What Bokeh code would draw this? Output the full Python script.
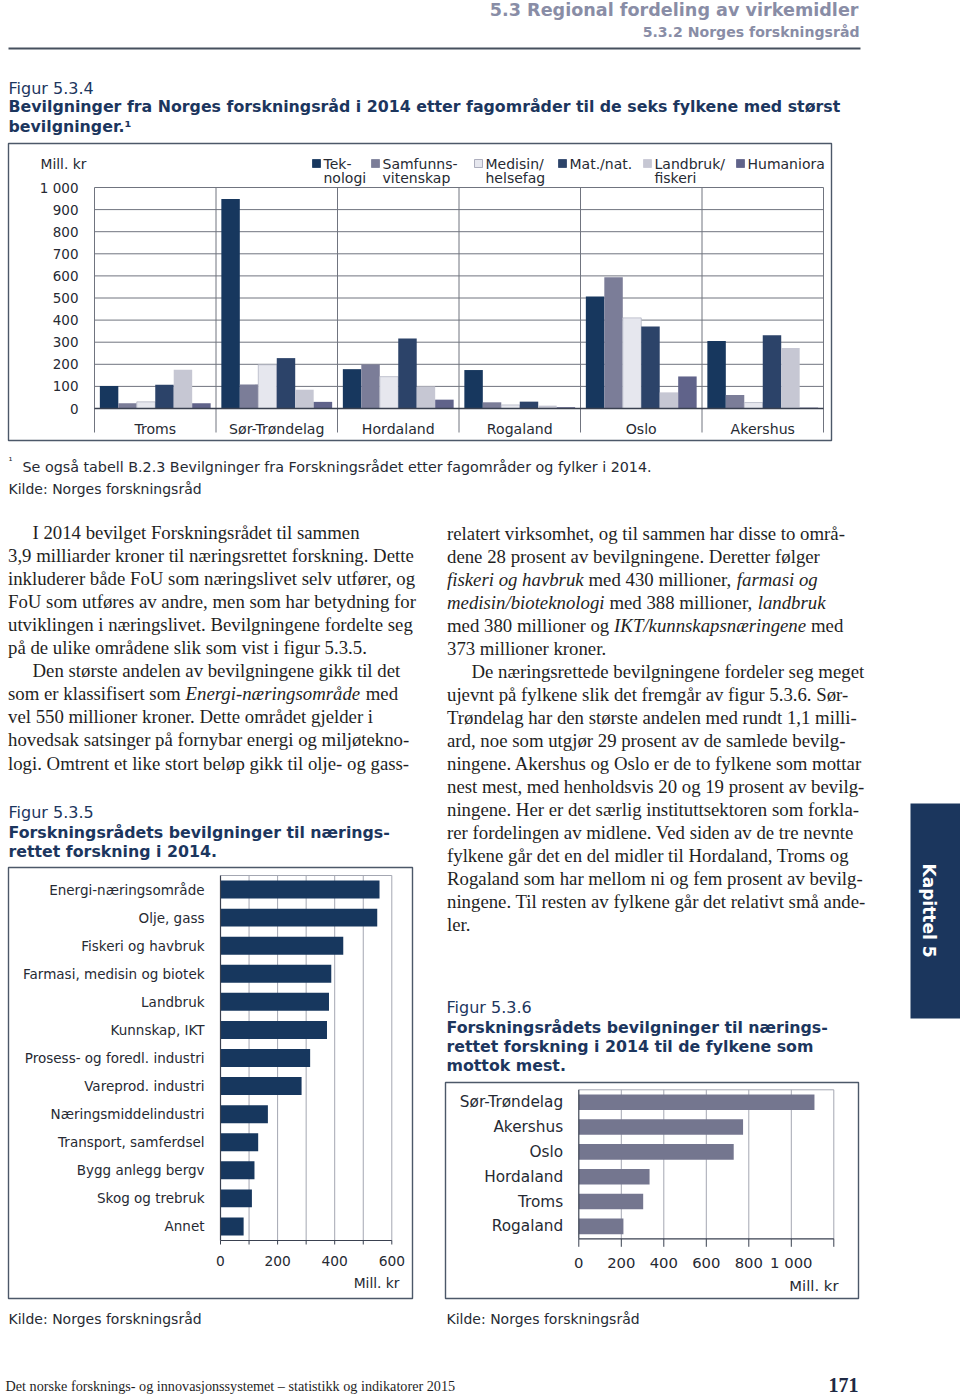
import numpy as np
from bokeh.plotting import figure
from bokeh.models import Range1d
from bokeh.core.properties import value
from bokeh.embed import file_html
from bokeh.resources import INLINE

# ------------------------------------------------------------------ data
# Figur 5.3.4
counties = ["Troms", "Sør-Trøndelag", "Hordaland", "Rogaland", "Oslo", "Akershus"]
field_labels = ["Tek-\nnologi", "Samfunns-\nvitenskap", "Medisin/\nhelsefag",
                "Mat./nat.", "Landbruk/\nfiskeri", "Humaniora"]
teknologi = [102, 948, 178, 174, 507, 305]
samfunnsvitenskap = [24, 109, 199, 28, 594, 61]
medisin_helsefag = [30, 198, 144, 16, 410, 27]
mat_nat = [108, 228, 317, 31, 371, 331]
landbruk_fiskeri = [175, 85, 100, 13, 73, 274]
humaniora = [24, 30, 40, 6, 145, 4]
c1_ticks = [0, 100, 200, 300, 400, 500, 600, 700, 800, 900, 1000]
c1_tick_labels = ["0", "100", "200", "300", "400", "500", "600", "700", "800", "900", "1 000"]

# Figur 5.3.5
areas = ["Energi-næringsområde", "Olje, gass", "Fiskeri og havbruk",
         "Farmasi, medisin og biotek", "Landbruk", "Kunnskap, IKT",
         "Prosess- og foredl. industri", "Vareprod. industri",
         "Næringsmiddelindustri", "Transport, samferdsel", "Bygg anlegg bergv",
         "Skog og trebruk", "Annet"]
area_values = [557, 549, 430, 388, 380, 373, 314, 284, 166, 132, 119, 110, 81]
c2_ticks = [0, 100, 200, 300, 400, 500, 600]
c2_tick_labels = ["0", "", "200", "", "400", "", "600"]

# Figur 5.3.6
top_counties = ["Sør-Trøndelag", "Akershus", "Oslo", "Hordaland", "Troms", "Rogaland"]
top_values = [1109, 773, 729, 333, 303, 210]
c3_ticks = [0, 200, 400, 600, 800, 1000, 1200]
c3_tick_labels = ["0", "200", "400", "600", "800", "1 000", ""]

# body text (*...* = italic)
left_lines = [
    "I 2014 bevilget Forskningsrådet til sammen",
    "3,9 milliarder kroner til næringsrettet forskning. Dette",
    "inkluderer både FoU som næringslivet selv utfører, og",
    "FoU som utføres av andre, men som har betydning for",
    "utviklingen i næringslivet. Bevilgningene fordelte seg",
    "på de ulike områdene slik som vist i figur 5.3.5.",
    "Den største andelen av bevilgningene gikk til det",
    "som er klassifisert som *Energi-næringsområde* med",
    "vel 550 millioner kroner. Dette området gjelder i",
    "hovedsak satsinger på fornybar energi og miljøtekno-",
    "logi. Omtrent et like stort beløp gikk til olje- og gass-",
]
left_indent = [0, 6]
right_lines = [
    "relatert virksomhet, og til sammen har disse to områ-",
    "dene 28 prosent av bevilgningene. Deretter følger",
    "*fiskeri og havbruk* med 430 millioner, *farmasi og*",
    "*medisin/bioteknologi* med 388 millioner, *landbruk*",
    "med 380 millioner og *IKT/kunnskapsnæringene* med",
    "373 millioner kroner.",
    "De næringsrettede bevilgningene fordeler seg meget",
    "ujevnt på fylkene slik det fremgår av figur 5.3.6. Sør-",
    "Trøndelag har den største andelen med rundt 1,1 milli-",
    "ard, noe som utgjør 29 prosent av de samlede bevilg-",
    "ningene. Akershus og Oslo er de to fylkene som mottar",
    "nest mest, med henholdsvis 20 og 19 prosent av bevilg-",
    "ningene. Her er det særlig instituttsektoren som forkla-",
    "rer fordelingen av midlene. Ved siden av de tre nevnte",
    "fylkene går det en del midler til Hordaland, Troms og",
    "Rogaland som har mellom ni og fem prosent av bevilg-",
    "ningene. Til resten av fylkene går det relativt små ande-",
    "ler.",
]
right_indent = [6]

# ------------------------------------------------------------------ style
SANS = "DejaVu Sans"
SERIF = "Liberation Serif"
NAVY = "#1c365e"
INK = "#1f1f1f"
CHART_INK = "#262a33"
HEAD_GRAY = "#898da6"
BOX = "#4c5869"
series_colors = ["#17375e", "#7b7d98", "#e6e7ee", "#2c4369", "#c6c7d3", "#60638a"]
series_lines = [None, None, "#b4b6c4", None, None, None]

PX0, PX1, PY0, PY1 = 0, 960, 0, 1396

p = figure(width=PX1 - PX0, height=PY1 - PY0,
           x_range=Range1d(PX0, PX1), y_range=Range1d(PY1, PY0),
           output_backend="svg", toolbar_location=None, min_border=0,
           x_axis_location=None, y_axis_location=None,
           outline_line_color=None, background_fill_color="white",
           border_fill_color="white")
p.grid.grid_line_color = None


def put_text(x, y, texts, size, color, font=SANS, style="normal", align="left",
             baseline="middle", angle=0.0, xr="default", yr="default"):
    p.text(x=x, y=y, text=texts, text_font=value(font),
           text_font_size=f"{size}px", text_color=color,
           text_font_style=style, text_align=align, text_baseline=baseline,
           angle=angle, x_range_name=xr, y_range_name=yr)


# ------------------------------------------------------------------ header
put_text([858], [9], ["5.3 Regional fordeling av virkemidler"], 17.6, HEAD_GRAY,
         style="bold", align="right")
put_text([859], [31], ["5.3.2 Norges forskningsråd"], 14.1, HEAD_GRAY,
         style="bold", align="right")
p.segment(x0=[8], x1=[860], y0=[48], y1=[48], line_color="#46505e", line_width=2)

put_text([8], [88], ["Figur 5.3.4"], 16, NAVY)
put_text([8, 8], [106, 126],
         ["Bevilgninger fra Norges forskningsråd i 2014 etter fagområder til de seks fylkene med størst",
          "bevilgninger.¹"], 15.8, NAVY, style="bold")

# ------------------------------------------------------------------ figure 5.3.4
C1_L, C1_R, C1_Y0, C1_YT = 94.0, 823.0, 408.0, 187.0
c1_gx = (C1_R - C1_L) / len(counties)
c1_sy = (C1_Y0 - C1_YT) / c1_ticks[-1]
p.extra_x_ranges["c1x"] = Range1d((PX0 - C1_L) / c1_gx, (PX1 - C1_L) / c1_gx)
p.extra_y_ranges["c1y"] = Range1d((C1_Y0 - PY1) / c1_sy, (C1_Y0 - PY0) / c1_sy)

p.quad(left=[8], right=[831], top=[143], bottom=[440], fill_color=None,
       line_color=BOX, line_width=1.4)

n_c = len(counties)
p.segment(x0=[0] * len(c1_ticks), x1=[n_c] * len(c1_ticks), y0=c1_ticks, y1=c1_ticks,
          line_color="#70747f", line_width=1, x_range_name="c1x", y_range_name="c1y")
ext = -(432.0 - C1_Y0) / c1_sy
bounds = np.arange(n_c + 1)
p.segment(x0=bounds, x1=bounds, y0=[c1_ticks[-1]] * len(bounds), y1=[ext] * len(bounds),
          line_color="#70747f", line_width=1, x_range_name="c1x", y_range_name="c1y")

series = [teknologi, samfunnsvitenskap, medisin_helsefag, mat_nat, landbruk_fiskeri, humaniora]
bw = 0.152
for j, vals in enumerate(series):
    xs = np.arange(n_c) + 0.5 + (j - (len(series) - 1) / 2) * bw
    p.vbar(x=xs, top=vals, bottom=0, width=bw, fill_color=series_colors[j],
           line_color=series_lines[j], line_width=0.8,
           x_range_name="c1x", y_range_name="c1y")
p.segment(x0=[0], x1=[n_c], y0=[0], y1=[0], line_color="#3a4150", line_width=1.3,
          x_range_name="c1x", y_range_name="c1y")

put_text([78] * len(c1_ticks), c1_ticks, c1_tick_labels, 13.5, CHART_INK,
         align="right", yr="c1y")
put_text([40], [163], ["Mill. kr"], 13.8, CHART_INK)
put_text(list(np.arange(n_c) + 0.5), [428] * n_c, counties, 14.1, CHART_INK,
         align="center", xr="c1x")

leg_x = [312, 371, 474, 558, 643, 736]
p.rect(x=[x + 4 for x in leg_x], y=[163] * len(leg_x), width=8, height=8,
       width_units="screen", height_units="screen", fill_color=series_colors,
       line_color=["#17375e", "#7b7d98", "#9a9cae", "#2c4369", "#c6c7d3", "#60638a"],
       line_width=0.8)
l1x, l1y, l1t, l2x, l2y, l2t = [], [], [], [], [], []
for x, lab in zip(leg_x, field_labels):
    parts = lab.split("\n")
    l1x.append(x + 11); l1y.append(163); l1t.append(parts[0])
    if len(parts) > 1:
        l2x.append(x + 11); l2y.append(177); l2t.append(parts[1])
put_text(l1x, l1y, l1t, 14, CHART_INK)
put_text(l2x, l2y, l2t, 14, CHART_INK)

put_text([8], [461], ["¹"], 10, CHART_INK)
put_text([22], [466], ["Se også tabell B.2.3 Bevilgninger fra Forskningsrådet etter fagområder og fylker i 2014."],
         14.3, CHART_INK)
put_text([8], [488], ["Kilde: Norges forskningsråd"], 14, CHART_INK)

# ------------------------------------------------------------------ body text
TR = {" ": 250, ",": 250, ".": 250, "-": 333, "/": 278, ":": 278, "–": 500,
      "A": 722, "B": 667, "C": 667, "D": 722, "E": 611, "F": 556, "G": 722, "H": 722,
      "I": 333, "J": 389, "K": 722, "L": 611, "M": 889, "N": 722, "O": 722, "P": 556,
      "Q": 722, "R": 667, "S": 556, "T": 611, "U": 722, "V": 722, "W": 944, "X": 722,
      "Y": 722, "Z": 611, "a": 444, "b": 500, "c": 444, "d": 500, "e": 444, "f": 333,
      "g": 500, "h": 500, "i": 278, "j": 278, "k": 500, "l": 278, "m": 778, "n": 500,
      "o": 500, "p": 500, "q": 500, "r": 333, "s": 389, "t": 278, "u": 500, "v": 500,
      "w": 722, "x": 500, "y": 500, "z": 444, "æ": 667, "ø": 500, "å": 444,
      "Ø": 722, "Å": 722, "Æ": 889}
TI = dict(TR)
TI.update({"A": 611, "B": 611, "F": 611, "K": 667, "L": 556, "M": 833, "N": 667,
           "P": 611, "R": 611, "S": 500, "T": 556, "V": 611, "W": 833, "E": 611,
           "a": 500, "f": 278, "k": 444, "m": 722, "r": 389, "v": 444, "w": 667,
           "x": 444, "y": 444, "z": 389, "å": 500, "I": 333})

BODY_FS = 18.8


def seg_w(s, italic):
    tab = TI if italic else TR
    return sum(tab.get(c, 500) for c in s) / 1000.0 * BODY_FS


def set_column(lines, indents, x_left, base0, lead):
    reg = ([], [], [])
    ita = ([], [], [])
    for i, line in enumerate(lines):
        x = x_left + (24.5 if i in indents else 0.0)
        y = base0 + lead * i
        for k, seg in enumerate(line.split("*")):
            if not seg:
                continue
            it = (k % 2 == 1)
            lead_sp = len(seg) - len(seg.lstrip(" "))
            core = seg.strip(" ")
            tgt = ita if it else reg
            tgt[0].append(x + lead_sp * seg_w(" ", it)); tgt[1].append(y); tgt[2].append(core)
            x += seg_w(seg, it)
    put_text(list(reg[0]), list(reg[1]), list(reg[2]), BODY_FS, INK, font=SERIF,
             baseline="alphabetic")
    if ita[0]:
        put_text(list(ita[0]), list(ita[1]), list(ita[2]), BODY_FS, INK, font=SERIF,
                 style="italic", baseline="alphabetic")


set_column(left_lines, left_indent, 7.5, 532.0, 23.05)
set_column(right_lines, right_indent, 446.5, 532.5, 23.05)

# ------------------------------------------------------------------ figure 5.3.5
put_text([8], [812], ["Figur 5.3.5"], 16, NAVY)
put_text([8, 8], [832, 851], ["Forskningsrådets bevilgninger til nærings-",
                               "rettet forskning i 2014."], 15.8, NAVY, style="bold")
p.quad(left=[8], right=[412], top=[867], bottom=[1298], fill_color=None,
       line_color=BOX, line_width=1.4)

C2_L, C2_R, C2_T, C2_B = 220.0, 391.3, 875.0, 1240.0
c2_sx = (C2_R - C2_L) / c2_ticks[-1]
c2_band = (C2_B - C2_T) / len(areas)
p.extra_x_ranges["c2x"] = Range1d((PX0 - C2_L) / c2_sx, (PX1 - C2_L) / c2_sx)
p.extra_y_ranges["c2y"] = Range1d((PY1 - C2_T) / c2_band - 0.5, (PY0 - C2_T) / c2_band - 0.5)
n_a = len(areas)
top_k, bot_k = -0.5, n_a - 0.5
p.segment(x0=c2_ticks[1:], x1=c2_ticks[1:], y0=[top_k] * 6, y1=[bot_k] * 6,
          line_color="#a4a7b2", line_width=1, x_range_name="c2x", y_range_name="c2y")
p.segment(x0=[0], x1=[c2_ticks[-1]], y0=[top_k], y1=[top_k], line_color="#a4a7b2",
          line_width=1, x_range_name="c2x", y_range_name="c2y")
p.hbar(y=np.arange(n_a), left=0, right=area_values, height=0.64, fill_color="#17375e",
       line_color=None, x_range_name="c2x", y_range_name="c2y")
p.segment(x0=[0, 0], x1=[c2_ticks[-1], 0], y0=[bot_k, top_k], y1=[bot_k, bot_k],
          line_color="#3a4150", line_width=1.2, x_range_name="c2x", y_range_name="c2y")
tick_len2 = 4.0 / c2_band
p.segment(x0=c2_ticks, x1=c2_ticks, y0=[bot_k] * len(c2_ticks),
          y1=[bot_k + tick_len2] * len(c2_ticks), line_color="#3a4150", line_width=1,
          x_range_name="c2x", y_range_name="c2y")
put_text(c2_ticks, [1260] * len(c2_ticks), c2_tick_labels, 13.8, CHART_INK,
         align="center", xr="c2x")
put_text([399], [1282], ["Mill. kr"], 13.8, CHART_INK, align="right")
put_text([204] * n_a, list(np.arange(n_a)), areas, 13.5, CHART_INK, align="right", yr="c2y")
put_text([8], [1318], ["Kilde: Norges forskningsråd"], 14, CHART_INK)

# ------------------------------------------------------------------ figure 5.3.6
put_text([446], [1007], ["Figur 5.3.6"], 16, NAVY)
put_text([446, 446, 446], [1027, 1046, 1065],
         ["Forskningsrådets bevilgninger til nærings-",
          "rettet forskning i 2014 til de fylkene som", "mottok mest."],
         15.8, NAVY, style="bold")
p.quad(left=[445], right=[858], top=[1082], bottom=[1298], fill_color=None,
       line_color=BOX, line_width=1.4)

C3_L, C3_R, C3_T, C3_B = 578.3, 833.3, 1089.3, 1238.3
c3_sx = (C3_R - C3_L) / c3_ticks[-1]
c3_band = (C3_B - C3_T) / len(top_counties)
p.extra_x_ranges["c3x"] = Range1d((PX0 - C3_L) / c3_sx, (PX1 - C3_L) / c3_sx)
p.extra_y_ranges["c3y"] = Range1d((PY1 - C3_T) / c3_band - 0.5, (PY0 - C3_T) / c3_band - 0.5)
n_t = len(top_counties)
tk3, bk3 = -0.5, n_t - 0.5
p.segment(x0=c3_ticks[1:], x1=c3_ticks[1:], y0=[tk3] * 6, y1=[bk3] * 6,
          line_color="#a4a7b2", line_width=1, x_range_name="c3x", y_range_name="c3y")
p.segment(x0=[0], x1=[c3_ticks[-1]], y0=[tk3], y1=[tk3], line_color="#a4a7b2",
          line_width=1, x_range_name="c3x", y_range_name="c3y")
p.hbar(y=np.arange(n_t), left=0, right=top_values, height=0.63, fill_color="#74768f",
       line_color=None, x_range_name="c3x", y_range_name="c3y")
p.segment(x0=[0, 0], x1=[c3_ticks[-1], 0], y0=[bk3, tk3], y1=[bk3, bk3],
          line_color="#3a4150", line_width=1.2, x_range_name="c3x", y_range_name="c3y")
tick_len3 = 8.0 / c3_band
p.segment(x0=c3_ticks, x1=c3_ticks, y0=[bk3] * len(c3_ticks),
          y1=[bk3 + tick_len3] * len(c3_ticks), line_color="#3a4150", line_width=1,
          x_range_name="c3x", y_range_name="c3y")
put_text(c3_ticks, [1262] * len(c3_ticks), c3_tick_labels, 14.8, CHART_INK,
         align="center", xr="c3x")
put_text([838], [1285], ["Mill. kr"], 14.8, CHART_INK, align="right")
put_text([562.7] * n_t, list(np.arange(n_t)), top_counties, 15.3, CHART_INK,
         align="right", yr="c3y")
put_text([446], [1318], ["Kilde: Norges forskningsråd"], 14, CHART_INK)

# ------------------------------------------------------------------ tab and footer
p.quad(left=[910], right=[960], top=[803], bottom=[1018], fill_color="#1b365d",
       line_color=None)
put_text([928], [910], ["Kapittel 5"], 17, "white", style="bold", align="center",
         angle=-np.pi / 2)
put_text([5], [1385], ["Det norske forsknings- og innovasjonssystemet – statistikk og indikatorer 2015"],
         14.2, INK, font=SERIF)
put_text([858], [1384], ["171"], 20, "#1f2a44", font=SERIF, style="bold", align="right")

open("out.html", "w").write(file_html(p, INLINE))
